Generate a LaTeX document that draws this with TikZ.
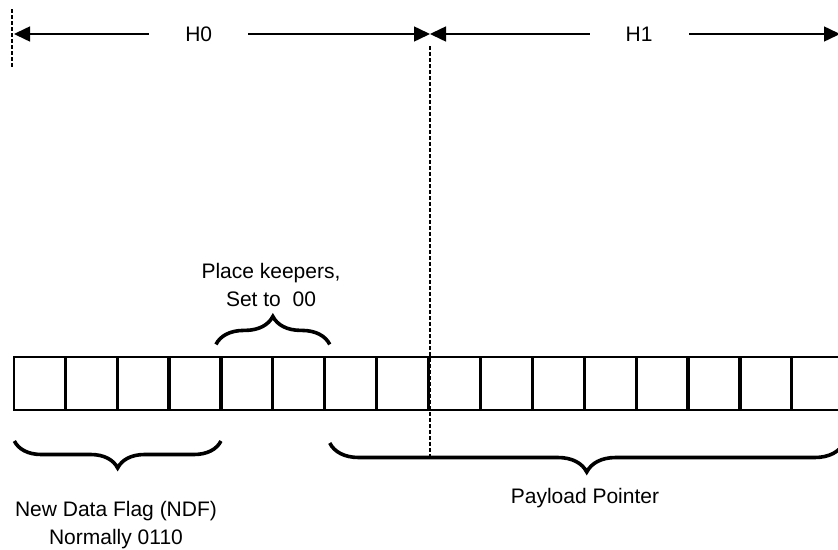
\documentclass[tikz,border=0pt]{standalone}
\usepackage{fontspec}
\setmainfont{Liberation Sans}
\usetikzlibrary{arrows.meta,decorations.pathreplacing,calc}

\begin{document}
\begin{tikzpicture}[x=1pt,y=-1pt,
    cell/.style={draw,line width=1.6pt,minimum width=50.3pt,
                 minimum height=53pt,inner sep=0pt},
    hdim/.style={{Triangle[length=16pt,width=15pt]}-{Triangle[length=16pt,width=15pt]},
                 line width=1.5pt},
    guide/.style={line width=1.8pt,dash pattern=on 4pt off 2pt},
    curly/.style={decorate,decoration={brace,amplitude=#1},line width=3.6pt},
    lbl/.style={font=\fontsize{21}{28}\selectfont,align=center}]

    \useasboundingbox (0,0) rectangle (838,549);
    \clip (0,0) rectangle (838,549);

    % ── the 16 cells ──────────────────────────────────────
    \foreach \i in {1,...,16}{
      \node[cell] (b\i) at ({39.3+(\i-1)*51.9},383.7){};
    }

    % ── H0 / H1 spans ─────────────────────────────────────
    \coordinate (h0l)  at (14,34);
    \coordinate (hmid) at (430,34);
    \coordinate (h1r)  at (840,34);
    \draw[hdim] (h0l) -- (hmid)
      node[lbl,pos=0.444,fill=white,inner xsep=36pt] (h0){H0};
    \draw[hdim] (hmid) -- (h1r)
      node[lbl,pos=0.51,fill=white,inner xsep=36pt] (h1){H1};

    % guide lines
    \coordinate (gl1) at (11.7,9);
    \coordinate (gl2) at (11.7,67);
    \draw[guide] (gl1) -- (gl2);
    \coordinate (gm1) at (430,46);
    \coordinate (gm2) at (430,457);
    \draw[guide] (gm1) -- (gm2);

    % ── braces ────────────────────────────────────────────
    \draw[curly=28pt] ([xshift=-5pt,yshift=12pt]b5.north west)
                   -- ([xshift=5pt,yshift=12pt]b6.north east);
    \draw[curly=27pt] ([yshift=-30pt]b4.south east)
                   -- ([xshift=1pt,yshift=-30pt]b1.south west);
    \draw[curly=29pt] ([yshift=-32pt]b16.south east)
                   -- ([xshift=5pt,yshift=-32pt]b7.south west);

    % ── labels ────────────────────────────────────────────
    \node[lbl] (keep) at (271,285){Place keepers,\\Set to~~00};
    \node[lbl] (ndf) at (116,525){New Data Flag (NDF)\\Normally 0110};
    \node[lbl,anchor=base] (ptr) at (585,503){Payload Pointer};

\end{tikzpicture}
\end{document}
